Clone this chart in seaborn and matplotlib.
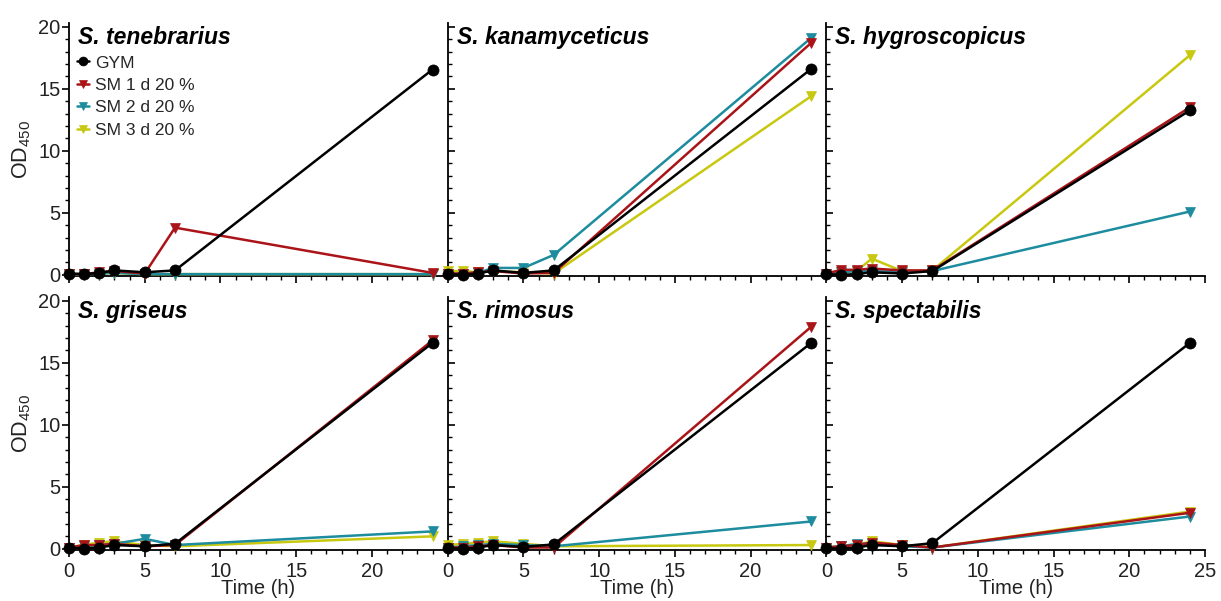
import matplotlib
matplotlib.use("Agg")
import matplotlib.pyplot as plt
import seaborn as sns
from matplotlib.ticker import MultipleLocator

# ---------------- data ----------------
time_h = [0, 1, 2, 3, 5, 7, 24]
series_labels = ["GYM", "SM 1 d 20 %", "SM 2 d 20 %", "SM 3 d 20 %"]
species = ["S. tenebrarius", "S. kanamyceticus", "S. hygroscopicus",
           "S. griseus", "S. rimosus", "S. spectabilis"]

tenebrarius_gym = [0.1, 0.05, 0.15, 0.35, 0.2, 0.35, 16.55]
tenebrarius_sm1 = [0.05, 0.05, 0.2, 0.3, 0.1, 3.8, 0.15]
tenebrarius_sm2 = [0.05, 0.05, 0.1, 0.15, 0.05, 0.05, 0.05]
tenebrarius_sm3 = [0.05, 0.05, 0.1, 0.15, 0.05, 0.05, 0.05]

kanamyceticus_gym = [0.05, 0.0, 0.1, 0.35, 0.15, 0.35, 16.6]
kanamyceticus_sm1 = [0.1, 0.1, 0.2, 0.3, 0.1, 0.15, 18.7]
kanamyceticus_sm2 = [0.05, 0.1, 0.15, 0.55, 0.55, 1.6, 19.1]
kanamyceticus_sm3 = [0.3, 0.3, 0.2, 0.3, 0.2, 0.1, 14.4]

hygroscopicus_gym = [0.05, 0.0, 0.05, 0.2, 0.1, 0.3, 13.25]
hygroscopicus_sm1 = [0.1, 0.4, 0.4, 0.5, 0.35, 0.35, 13.5]
hygroscopicus_sm2 = [0.1, 0.2, 0.3, 0.3, 0.2, 0.3, 5.1]
hygroscopicus_sm3 = [0.1, 0.2, 0.3, 1.3, 0.3, 0.35, 17.7]

griseus_gym = [0.1, 0.0, 0.1, 0.3, 0.2, 0.4, 16.6]
griseus_sm1 = [0.1, 0.3, 0.3, 0.4, 0.2, 0.3, 16.8]
griseus_sm2 = [0.1, 0.2, 0.3, 0.4, 0.8, 0.3, 1.4]
griseus_sm3 = [0.1, 0.3, 0.5, 0.6, 0.3, 0.2, 1.0]

rimosus_gym = [0.05, 0.0, 0.1, 0.3, 0.15, 0.35, 16.6]
rimosus_sm1 = [0.1, 0.1, 0.2, 0.3, 0.1, 0.1, 17.9]
rimosus_sm2 = [0.1, 0.2, 0.3, 0.4, 0.3, 0.2, 2.2]
rimosus_sm3 = [0.3, 0.4, 0.5, 0.6, 0.4, 0.2, 0.3]

spectabilis_gym = [0.05, 0.0, 0.1, 0.3, 0.2, 0.45, 16.6]
spectabilis_sm1 = [0.1, 0.2, 0.3, 0.5, 0.3, 0.1, 2.9]
spectabilis_sm2 = [0.1, 0.2, 0.4, 0.4, 0.2, 0.1, 2.6]
spectabilis_sm3 = [0.1, 0.2, 0.3, 0.6, 0.3, 0.1, 3.0]

panels = [
    [tenebrarius_gym, tenebrarius_sm1, tenebrarius_sm2, tenebrarius_sm3],
    [kanamyceticus_gym, kanamyceticus_sm1, kanamyceticus_sm2, kanamyceticus_sm3],
    [hygroscopicus_gym, hygroscopicus_sm1, hygroscopicus_sm2, hygroscopicus_sm3],
    [griseus_gym, griseus_sm1, griseus_sm2, griseus_sm3],
    [rimosus_gym, rimosus_sm1, rimosus_sm2, rimosus_sm3],
    [spectabilis_gym, spectabilis_sm1, spectabilis_sm2, spectabilis_sm3],
]

colors = ["#000000", "#AA1418", "#1C8C9E", "#C8C810"]
markers = ["o", "v", "v", "v"]
msizes = [8, 7.5, 7.5, 7.5]
zorders = [6, 5, 4, 3]

# ---------------- style ----------------
sns.set_theme(style="ticks")
plt.rcParams["font.family"] = ["Liberation Sans", "DejaVu Sans"]
plt.rcParams["mathtext.fontset"] = "custom"
plt.rcParams["mathtext.rm"] = "Liberation Sans"

fig = plt.figure(figsize=(12.21, 6.01), dpi=100)
gs = fig.add_gridspec(2, 3, left=69 / 1221, right=1205 / 1221,
                      top=1 - 23 / 601, bottom=1 - 550 / 601,
                      wspace=0.0, hspace=0.083)

for i, (name, series) in enumerate(zip(species, panels)):
    r, c = divmod(i, 3)
    ax = fig.add_subplot(gs[r, c])
    for k in range(4):
        sns.lineplot(x=time_h, y=series[k], ax=ax, color=colors[k],
                     marker=markers[k], markersize=msizes[k],
                     markeredgecolor=colors[k], markeredgewidth=0.5,
                     linewidth=1.8, zorder=zorders[k], clip_on=False,
                     label=series_labels[k])
    if ax.get_legend() is not None:
        ax.get_legend().remove()

    ax.set_xlim(0, 25)
    ax.set_ylim(-0.1, 20.3)
    for s in ["top", "right"]:
        ax.spines[s].set_visible(False)
    for s in ["left", "bottom"]:
        ax.spines[s].set_linewidth(1.3)
        ax.spines[s].set_color("black")

    ax.yaxis.set_major_locator(MultipleLocator(5))
    ax.yaxis.set_minor_locator(MultipleLocator(1))
    if c == 2:
        ax.set_xticks([0, 5, 10, 15, 20, 25])
    else:
        ax.set_xticks([0, 5, 10, 15, 20])
    ax.xaxis.set_minor_locator(MultipleLocator(1))

    ax.tick_params(axis="x", which="major", direction="out", length=5,
                   width=1.2, labelsize=14.5, pad=4, colors="black",
                   labelcolor="#222222")
    ax.tick_params(axis="x", which="minor", direction="out", length=3,
                   width=1.0, colors="black")
    ydir = "out" if c == 0 else "in"
    ax.tick_params(axis="y", which="major", direction=ydir, length=5,
                   width=1.2, labelsize=14.5, pad=1, colors="black",
                   labelcolor="#222222")
    ax.tick_params(axis="y", which="minor", direction=ydir, length=3,
                   width=1.0, colors="black")

    if r == 0:
        ax.tick_params(axis="x", labelbottom=False)
        ax.set_xlabel("")
    else:
        ax.set_xlabel("Time (h)", fontsize=14.5, labelpad=-2,
                      color="#222222")
    if c == 0:
        ax.set_ylabel(r"OD$_{\mathregular{450}}$", fontsize=15.5,
                      labelpad=4, color="#222222")
    else:
        ax.tick_params(axis="y", labelleft=False)
        ax.set_ylabel("")

    ax.text(0.024, 0.99, name, transform=ax.transAxes, ha="left",
            va="top", fontsize=16.5, fontweight="bold", fontstyle="italic",
            color="black")

    if i == 0:
        handles, labels = ax.get_legend_handles_labels()
        ax.legend(handles[:4], labels[:4], loc="upper left",
                  bbox_to_anchor=(0.022, 0.872), frameon=False,
                  fontsize=12.5, handlelength=0.7, handletextpad=0.3,
                  borderpad=0, borderaxespad=0, labelspacing=0.42,
                  markerscale=0.8)

fig.savefig("out.png", dpi=100)
